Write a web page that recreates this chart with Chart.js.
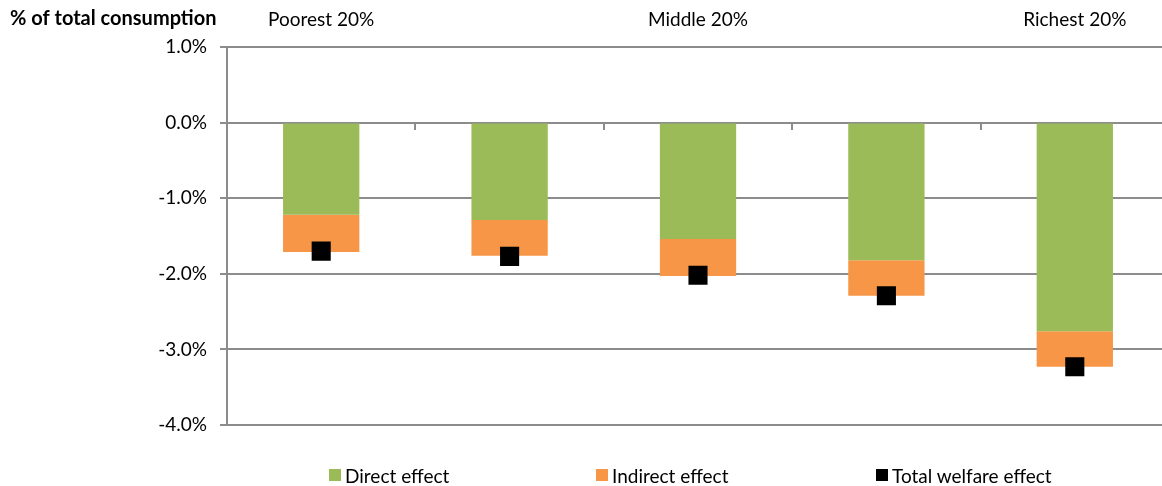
<!DOCTYPE html>
<html><head><meta charset="utf-8">
<script src="https://cdn.jsdelivr.net/npm/chart.js@4/dist/chart.umd.min.js"></script>
<style>
html,body{margin:0;padding:0;background:#fff;overflow:hidden;}
#wrap{position:relative;width:1162px;height:486px;overflow:hidden;}
canvas{position:absolute;left:0;top:0;}
.lg{position:absolute;top:464px;height:22px;font:19px Lato, sans-serif;color:#000;display:flex;align-items:center;white-space:nowrap;}
.lg i{display:inline-block;width:12px;height:12px;margin-right:4px;}
</style></head>
<body><div id="wrap"><canvas id="c" width="1169" height="486"></canvas><div id="legend"></div></div>
<script>
const categories = ['Poorest 20%', '', 'Middle 20%', '', 'Richest 20%'];
const directEffect = [-1.22, -1.29, -1.54, -1.82, -2.76];
const indirectEffect = [-0.49, -0.47, -0.49, -0.47, -0.47];
const totalWelfare = [-1.70, -1.77, -2.02, -2.29, -3.23];
const yTicks = [1, 0, -1, -2, -3, -4];
const yTitle = '% of total consumption';

const FONT = 'Lato';
const GRID = '#8c8c8c';

const legendItems = [
  {label: 'Direct effect', color: '#9BBB59', left: 329},
  {label: 'Indirect effect', color: '#F79646', left: 596},
  {label: 'Total welfare effect', color: '#000000', left: 876}
];
const lg = document.getElementById('legend');
legendItems.forEach(it => {
  const d = document.createElement('div');
  d.className = 'lg';
  d.style.left = it.left + 'px';
  const b = document.createElement('i');
  b.style.background = it.color;
  d.appendChild(b);
  d.appendChild(document.createTextNode(it.label));
  lg.appendChild(d);
});

const yTitlePlugin = {
  id: 'yTitle',
  afterDraw(chart) {
    const ctx = chart.ctx;
    ctx.save();
    ctx.font = 'bold 20px ' + FONT;
    ctx.fillStyle = '#000';
    ctx.textAlign = 'left';
    ctx.textBaseline = 'middle';
    ctx.fillText(yTitle, 10, 19);
    ctx.restore();
  }
};

new Chart(document.getElementById('c'), {
  type: 'bar',
  data: {
    labels: categories,
    datasets: [
      {type: 'line', label: 'Total welfare effect', data: totalWelfare, showLine: false,
       pointStyle: 'rect', pointRadius: 13.5, pointHoverRadius: 13.5, pointBorderWidth: 0,
       pointBackgroundColor: '#000', borderColor: '#000', backgroundColor: '#000', order: 0, stack: 'total'},
      {label: 'Direct effect', data: directEffect, backgroundColor: '#9BBB59', stack: 's', order: 1},
      {label: 'Indirect effect', data: indirectEffect, backgroundColor: '#F79646', stack: 's', order: 1}
    ]
  },
  options: {
    responsive: false,
    animation: false,
    layout: {autoPadding: false, padding: {left: 0, right: 0, top: 0, bottom: 61}},
    datasets: {bar: {categoryPercentage: 1, barPercentage: 0.405}},
    plugins: {legend: {display: false}, tooltip: {enabled: false}},
    scales: {
      x: {
        stacked: true, position: {y: 0}, offset: true,
        grid: {offset: true, drawOnChartArea: false, tickLength: 6, color: GRID, lineWidth: 2},
        border: {color: GRID, width: 2},
        ticks: {display: false}
      },
      xTop: {
        type: 'category', labels: categories, position: 'top', offset: true,
        grid: {display: false}, border: {display: false},
        ticks: {font: {family: FONT, size: 19}, color: '#000', padding: 8, maxRotation: 0, autoSkip: false},
        afterFit: s => { s.height = 47; }
      },
      y: {
        stacked: true, min: -4, max: 1,
        afterBuildTicks: s => { s.ticks = yTicks.map(v => ({value: v})); },
        ticks: {font: {family: FONT, size: 19}, color: '#000', padding: 13, callback: v => v.toFixed(1) + '%'},
        grid: {color: GRID, lineWidth: 2, tickLength: 7},
        border: {color: GRID, width: 2},
        afterFit: s => { s.width = 227; }
      }
    }
  },
  plugins: [yTitlePlugin]
});
</script>
</body></html>
